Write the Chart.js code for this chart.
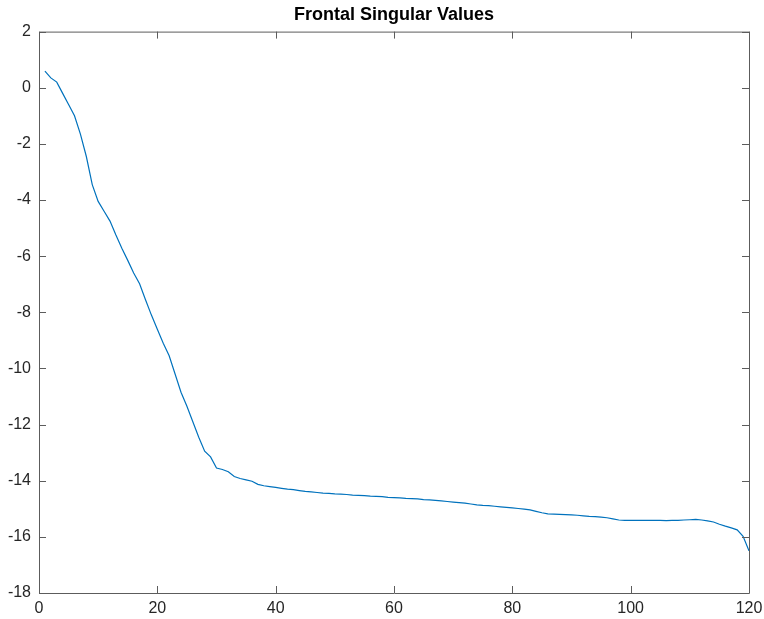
<!DOCTYPE html>
<html>
<head>
<meta charset="utf-8">
<script src="https://cdn.jsdelivr.net/npm/chart.js@4"></script>
<style>
  html, body { margin: 0; padding: 0; background: #fff; }
  #wrap { width: 764px; height: 619px; }
</style>
</head>
<body>
<div id="wrap"><canvas id="myChart" width="764" height="619"></canvas></div>
<script>
//index values (x axis)
var indices = [];
for (var i = 1; i <= 120; i++) indices.push(i);

//log singular values
var singularValues = [
  0.59, 0.35, 0.2, -0.2, -0.6, -1.0, -1.65, -2.45, -3.45, -4.05,
  -4.4, -4.75, -5.25, -5.72, -6.15, -6.6, -6.98, -7.55, -8.1, -8.6,
  -9.1, -9.55, -10.2, -10.85, -11.35, -11.9, -12.45, -12.95, -13.15, -13.55,
  -13.6, -13.68, -13.85, -13.92, -13.97, -14.02, -14.13, -14.18, -14.21, -14.24,
  -14.27, -14.3, -14.32, -14.35, -14.38, -14.4, -14.42, -14.44, -14.45, -14.47,
  -14.48, -14.49, -14.51, -14.52, -14.53, -14.55, -14.56, -14.57, -14.59, -14.6,
  -14.61, -14.63, -14.64, -14.65, -14.67, -14.68, -14.7, -14.72, -14.74, -14.76,
  -14.78, -14.8, -14.83, -14.86, -14.88, -14.89, -14.91, -14.93, -14.95, -14.97,
  -14.99, -15.01, -15.04, -15.09, -15.14, -15.18, -15.19, -15.2, -15.21, -15.22,
  -15.23, -15.25, -15.27, -15.28, -15.3, -15.32, -15.36, -15.4, -15.41, -15.41,
  -15.41, -15.41, -15.41, -15.41, -15.41, -15.42, -15.41, -15.41, -15.4, -15.39,
  -15.38, -15.4, -15.43, -15.47, -15.55, -15.62, -15.68, -15.75, -15.98, -16.5
];

//axis tick values
var xTicks = [0, 20, 40, 60, 80, 100, 120];
var yTicks = [-18, -16, -14, -12, -10, -8, -6, -4, -2, 0, 2];

var points = indices.map(function (x, k) { return { x: x, y: singularValues[k] }; });

var axisColor = '#5c5c5c';
var textColor = '#262626';
var fontFamily = '"Liberation Sans", Arial, Helvetica, sans-serif';

//draws the matlab style box with inward ticks
var framePlugin = {
  id: 'frame',
  afterDraw: function (chart) {
    var ctx = chart.ctx;
    var a = chart.chartArea;
    var xs = chart.scales.x, ys = chart.scales.y;
    var len = 7;
    ctx.save();
    ctx.strokeStyle = axisColor;
    ctx.lineWidth = 1;
    ctx.beginPath();
    ctx.rect(a.left + 0.5, a.top + 0.5, a.right - a.left, a.bottom - a.top);
    xTicks.forEach(function (v) {
      var px = Math.round(xs.getPixelForValue(v)) + 0.5;
      ctx.moveTo(px, a.bottom); ctx.lineTo(px, a.bottom - len);
      ctx.moveTo(px, a.top); ctx.lineTo(px, a.top + len);
    });
    yTicks.forEach(function (v) {
      var py = Math.round(ys.getPixelForValue(v)) + 0.5;
      ctx.moveTo(a.left, py); ctx.lineTo(a.left + len, py);
      ctx.moveTo(a.right, py); ctx.lineTo(a.right - len, py);
    });
    ctx.stroke();
    ctx.restore();
  }
};

var myCanvas = document.getElementById('myChart').getContext('2d');

var myChart = new Chart(myCanvas, {
  type: 'line',
  data: {
    datasets: [{
      data: points,
      borderColor: '#0072BD',
      borderWidth: 1.2,
      pointRadius: 0,
      tension: 0,
      fill: false
    }]
  },
  options: {
    responsive: false,
    animation: false,
    layout: { padding: { left: 0, right: 15, top: 0, bottom: 0 } },
    plugins: {
      legend: { display: false },
      tooltip: { enabled: false },
      title: {
        display: true,
        text: 'Frontal Singular Values',
        color: '#000',
        fullSize: false,
        font: { family: fontFamily, size: 18, weight: 'bold' },
        padding: { top: 4, bottom: 6 }
      }
    },
    scales: {
      x: {
        type: 'linear',
        min: 0,
        max: 120,
        grid: { display: false, drawTicks: false },
        border: { display: false },
        afterBuildTicks: function (s) { s.ticks = xTicks.map(function (v) { return { value: v }; }); },
        afterFit: function (s) { s.height = 26; s.paddingLeft = 0; s.paddingRight = 0; },
        ticks: { color: textColor, padding: 6, maxRotation: 0, font: { family: fontFamily, size: 16 } }
      },
      y: {
        type: 'linear',
        min: -18,
        max: 2,
        grid: { display: false, drawTicks: false },
        border: { display: false },
        afterBuildTicks: function (s) { s.ticks = yTicks.map(function (v) { return { value: v }; }); },
        afterFit: function (s) { s.width = 39; },
        ticks: { color: textColor, padding: 8, font: { family: fontFamily, size: 16 } }
      }
    }
  },
  plugins: [framePlugin]
});
</script>
</body>
</html>
